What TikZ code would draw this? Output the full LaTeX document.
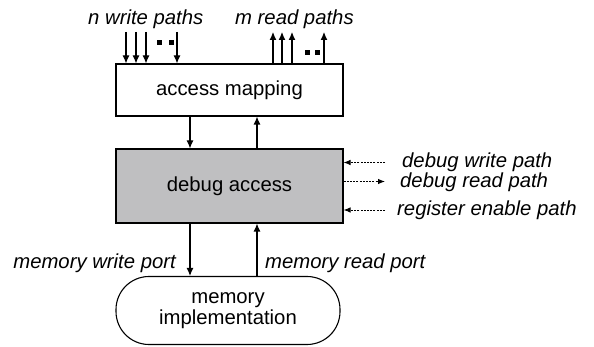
\documentclass[tikz,border=0pt]{standalone}
\usepackage{fontspec}
\setmainfont{Liberation Sans}
\usetikzlibrary{arrows.meta}
\definecolor{dbg}{RGB}{191,191,193}
\begin{document}
\begin{tikzpicture}[x=1pt,y=-1pt,
  lbl/.style={font=\fontsize{20.3}{24}\selectfont\itshape, inner sep=0pt},
  boxtxt/.style={font=\fontsize{20.3}{21}\selectfont},
  arr/.style={line width=1.1pt, -{Latex[length=8pt,width=7pt]}},
  darr/.style={line width=0.9pt, dash pattern=on 2pt off 1.2pt, -{Latex[length=7pt,width=5.5pt]}},
  sq/.style={fill=black, minimum size=5pt, inner sep=0pt}]
\useasboundingbox (0,0) rectangle (594,347);
% boxes
\node[draw, line width=1.1pt, minimum width=227pt, minimum height=52pt, boxtxt] (am) at (229.5,90) {access mapping};
\node[draw, line width=1.1pt, fill=dbg, minimum width=227pt, minimum height=74pt, boxtxt] (da) at (229.5,186) {debug access};
\node[draw, line width=1.1pt, rounded corners=33pt, minimum width=224pt, minimum height=68pt, align=center, boxtxt] (mi) at (228,310.5) {memory\\implementation};
% top labels
\node[lbl, anchor=west] (nw) at (88,19) {n write paths};
\node[lbl, anchor=west] (mr) at (235,19) {m read paths};
% write paths
\foreach \i/\x in {1/126,2/136,3/146,4/177}{
  \coordinate (ws\i) at (\x,32);
  \draw[arr] (ws\i) -- (ws\i |- am.north);
}
\node[sq] (wq1) at (159,43) {};
\node[sq] (wq2) at (171,43) {};
% read paths
\foreach \i/\x in {1/273,2/282,3/292,4/324}{
  \coordinate (re\i) at (\x,32);
  \draw[arr] (re\i |- am.north) -- (re\i);
}
\node[sq] (rq1) at (307,53) {};
\node[sq] (rq2) at (317,53) {};
% between access mapping and debug
\draw[arr] (am.south -| 190,0) -- (da.north -| 190,0);
\draw[arr] (da.north -| 257,0) -- (am.south -| 257,0);
% between debug and memory
\draw[arr] (da.south -| 190,0) -- (mi.north -| 190,0);
\draw[arr] (mi.north -| 257,0) -- (da.south -| 257,0);
\node[lbl, anchor=east] (mwp) at (176,263) {memory write port};
\node[lbl, anchor=west] (mrp) at (265,263) {memory read port};
% debug paths
\node[lbl, anchor=west] (dw) at (402,162) {debug write path};
\node[lbl, anchor=west] (dr) at (400,182) {debug read path};
\node[lbl, anchor=west] (re) at (397,210) {register enable path};
\coordinate (dws) at (385,162.5);
\coordinate (drs) at (385,181.5);
\coordinate (res) at (385,210);
\draw[darr] (dws) -- (dws -| da.east);
\draw[darr] (drs -| da.east) -- (drs);
\draw[darr] (res) -- (res -| da.east);
\end{tikzpicture}
\end{document}
